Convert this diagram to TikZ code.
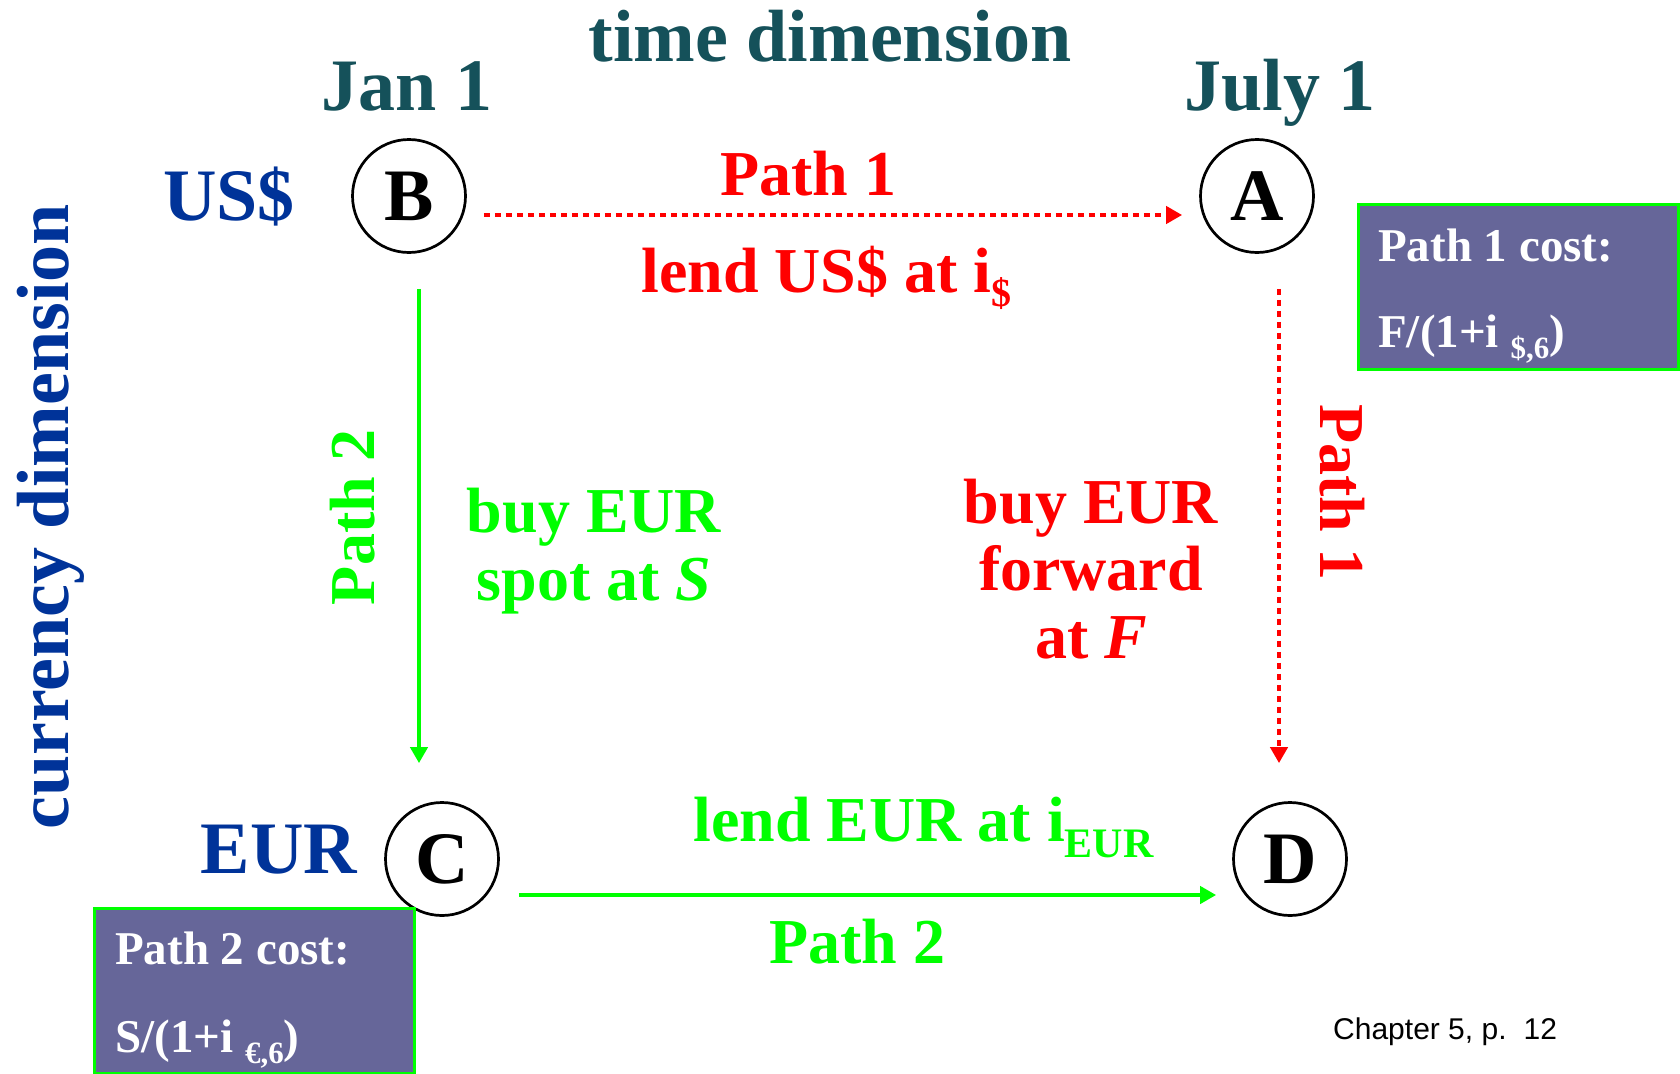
\documentclass[tikz,border=0pt]{standalone}
\usepackage{fontspec}
\setmainfont{Liberation Serif}
\newfontfamily\arialfont{Liberation Sans}
\usetikzlibrary{arrows.meta}
\definecolor{timeteal}{RGB}{21,81,90}
\definecolor{curblue}{RGB}{0,51,153}
\definecolor{pathred}{RGB}{255,0,0}
\definecolor{pathgreen}{RGB}{0,255,0}
\definecolor{costfill}{RGB}{102,102,153}
\newcommand{\dropsub}[3]{\raisebox{-#1}{\fontsize{#2}{#2}\selectfont #3}}

\begin{document}
\begin{tikzpicture}[x=1pt, y=-1pt,
    big/.style={font=\fontsize{74}{80}\selectfont\bfseries, inner sep=0pt,
      anchor=base},
    mid/.style={font=\fontsize{64}{67.5}\selectfont\bfseries, inner sep=0pt,
      anchor=base},
    pt/.style={circle, draw, line width=2.7pt, minimum size=113pt,
      inner sep=0pt, font=\fontsize{74}{80}\selectfont\bfseries},
    costbox/.style={draw=pathgreen, fill=costfill, line width=3pt,
      minimum width=320pt, minimum height=165pt, anchor=north west,
      inner sep=0pt, outer sep=0pt},
    costtext/.style={font=\fontsize{47}{47}\selectfont\bfseries, text=white,
      inner sep=0pt, anchor=base west},
    solarr/.style={-{Triangle[length=16pt,width=17pt]}, line width=4pt,
      pathgreen},
    dotarr/.style={-{Triangle[length=16pt,width=17pt]}, line width=4.5pt,
      dash pattern=on 6pt off 5pt, pathred}
]
\useasboundingbox (0,0) rectangle (1680,1073);

\node[big, text=timeteal] (title) at (830,62)  {time dimension};
\node[big, text=timeteal] (jan)   at (407,110) {Jan 1};
\node[big, text=timeteal] (jul)   at (1280,110) {July 1};
\node[big, text=curblue]  (usd)   at (229,220) {US\$};
\node[big, text=curblue]  (eur)   at (279,873) {EUR};
\node[big, text=curblue, rotate=90] (curr) at (68,517) {currency dimension};

\node[pt] (B) at (409,196)  {B};
\node[pt] (A) at (1257,196) {A};
\node[pt] (C) at (442,859)  {C};
\node[pt] (D) at (1290,859) {D};

\node[mid, text=pathred] (p1top) at (808,195) {Path 1};
\node[mid, text=pathred, anchor=base west] (lendusd) at (641,292)
  {lend US\$ at i\dropsub{14pt}{40}{\$}};
\node[mid, text=pathgreen, rotate=90] (p2left) at (374,517) {Path 2};
\node[mid, text=pathred, rotate=-90] (p1right) at (1320,492) {Path 1};
\node[mid, text=pathgreen, align=center] (spot) at (594,600)
  {buy EUR\\spot at \textit{S}};
\node[mid, text=pathred, align=center] (fwd) at (1091,658)
  {buy EUR\\forward\\at \textit{F}};
\node[mid, text=pathgreen, anchor=base west] (lendeur) at (693,841)
  {lend EUR at i\dropsub{16pt}{42}{EUR}};
\node[mid, text=pathgreen] (p2bot) at (857,963) {Path 2};

\draw[dotarr, shorten <=17pt, shorten >=17pt]
  ([yshift=-19pt]B.east) -- ([yshift=-19pt]A.west);
\draw[solarr, shorten <=35pt, shorten >=38pt]
  ([xshift=10pt]B.south) -- ([xshift=-23pt]C.north);
\draw[dotarr, shorten <=35pt, shorten >=38pt]
  ([xshift=22pt]A.south) -- ([xshift=-11pt]D.north);
\draw[solarr, shorten <=19pt, shorten >=16pt]
  ([yshift=-36pt]C.east) -- ([yshift=-36pt]D.west);

\node[costbox] (cost1) at (1358,204) {};
\node[costtext] (c1a) at (1378,261) {Path 1 cost:};
\node[costtext] (c1b) at (1378,347) {F/(1+i \dropsub{11pt}{31}{\$,6})};
\node[costbox] (cost2) at (94,908) {};
\node[costtext] (c2a) at (115,964)  {Path 2 cost:};
\node[costtext] (c2b) at (115,1052) {S/(1+i \dropsub{11pt}{31}{€,6})};

\node[font=\arialfont\fontsize{30}{30}\selectfont, inner sep=0pt,
  anchor=base west] (chap) at (1333,1039) {Chapter 5, p.\hspace{17pt}12};
\end{tikzpicture}
\end{document}
